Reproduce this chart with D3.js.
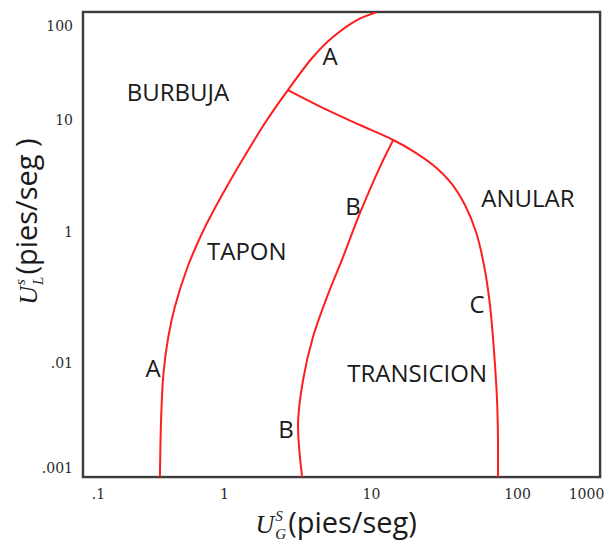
<!DOCTYPE html>
<html>
<head>
<meta charset="utf-8">
<script src="https://cdn.jsdelivr.net/npm/d3@7"></script>
<style>
  html, body { margin: 0; padding: 0; background: #fff; }
  svg { display: block; }
</style>
</head>
<body>
<svg id="chart" width="604" height="544"></svg>
<script>
// ---- data (units: pies/seg) ----
const xTickValues = [0.1, 1, 10, 100, 1000];
const xTickLabels = [".1", "1", "10", "100", "1000"];
const yTickValues = [100, 10, 1, 0.01, 0.001];
const yTickLabels = ["100", "10", "1", ".01", ".001"];

// boundary A (burbuja / tapón), bottom to top
const curveA = [
  [0.31, 0.00082], [0.3167, 0.00287], [0.331, 0.00803], [0.361, 0.0249],
  [0.407, 0.0716], [0.514, 0.292], [0.671, 0.966], [0.945, 2.05],
  [1.37, 4.68], [1.96, 10], [2.72, 20.8], [4.03, 46.8],
  [5.51, 76.4], [8.03, 115.8], [11.0, 141]
];
// junction branch + boundary C (transición / anular)
const curveC = [
  [2.72, 20.8], [5.02, 12.8], [8.42, 9.02], [14.2, 6.63],
  [19.4, 5.28], [26.6, 3.96], [35.3, 2.74], [44.0, 1.74],
  [52.4, 1.0], [59.4, 0.313], [65.3, 0.0768], [69.5, 0.0158],
  [73.0, 0.00444], [74.1, 0.00185], [74.1, 0.00082]
];
// boundary B (tapón / transición)
const curveB = [
  [14.2, 6.63], [11.5, 3.80], [8.42, 1.48], [6.45, 0.415],
  [5.02, 0.102], [4.03, 0.0249], [3.45, 0.00689], [3.19, 0.00268],
  [3.40, 0.00082]
];

const regionNames = ["BURBUJA", "TAPON", "TRANSICION", "ANULAR"];
const regionX = [0.431, 1.43, 20.7, 144];
const regionY = [19.9, 0.531, 0.0082, 2.05];

const curveTags = ["A", "A", "B", "B", "C"];
const tagX = [5.26, 0.274, 7.55, 2.64, 53.2];
const tagY = [49.1, 0.00916, 1.71, 0.0024, 0.0824];

// plot frame extent (data units)
const frameX = [0.076, 1600];
const frameY = [0.00082, 141];

// ---- scales (hand-drawn decades: piecewise log) ----
const x = d3.scaleLog().domain(xTickValues).range([98, 224, 371, 517, 586]);
const y = d3.scaleLog().domain(yTickValues).range([26, 120, 232, 363, 468]);

const svg = d3.select("#chart");

// frame
const fx0 = x(frameX[0]), fx1 = x(frameX[1]);
const fy0 = y(frameY[1]), fy1 = y(frameY[0]);
svg.append("rect")
  .attr("x", fx0).attr("y", fy0)
  .attr("width", fx1 - fx0).attr("height", fy1 - fy0)
  .attr("fill", "none").attr("stroke", "#3c3c3c").attr("stroke-width", 2.4);

// axes (labels only)
const tickFont = "'DejaVu Serif', serif";
const xAxis = d3.axisBottom(x).tickValues(xTickValues)
  .tickFormat((d, i) => xTickLabels[i]).tickSize(0).tickPadding(12);
const gx = svg.append("g").attr("transform", `translate(0,${fy1})`).call(xAxis);
gx.select(".domain").remove();
gx.selectAll("text").attr("font-family", tickFont).attr("font-size", 14).attr("fill", "#2a2a2a");

const yAxis = d3.axisLeft(y).tickValues(yTickValues)
  .tickFormat((d, i) => yTickLabels[i]).tickSize(0).tickPadding(10);
const gy = svg.append("g").attr("transform", `translate(${fx0},0)`).call(yAxis);
gy.select(".domain").remove();
gy.selectAll("text").attr("font-family", tickFont).attr("font-size", 14).attr("fill", "#2a2a2a");

// curves
const line = d3.line().x(d => x(d[0])).y(d => y(d[1])).curve(d3.curveCatmullRom.alpha(0.5));
const clip = svg.append("clipPath").attr("id", "clip").append("rect")
  .attr("x", fx0).attr("y", fy0).attr("width", fx1 - fx0).attr("height", fy1 - fy0);
svg.append("g").attr("clip-path", "url(#clip)")
  .selectAll("path").data([curveA, curveC, curveB]).join("path")
  .attr("d", line).attr("fill", "none")
  .attr("stroke", "#ff1e1e").attr("stroke-width", 2);

// region labels
const labelFont = "'Open Sans', sans-serif";
svg.append("g").selectAll("text").data(regionNames).join("text")
  .attr("x", (d, i) => x(regionX[i])).attr("y", (d, i) => y(regionY[i]))
  .attr("text-anchor", "middle").attr("dominant-baseline", "central")
  .attr("font-family", labelFont).attr("font-size", 24).attr("fill", "#1a1a1a")
  .text(d => d);

svg.append("g").selectAll("text").data(curveTags).join("text")
  .attr("x", (d, i) => x(tagX[i])).attr("y", (d, i) => y(tagY[i]))
  .attr("text-anchor", "middle").attr("dominant-baseline", "central")
  .attr("font-family", labelFont).attr("font-size", 24).attr("fill", "#1a1a1a")
  .text(d => d);

// axis titles with sub/superscripts
function title(g, sub, sup, rest) {
  const u = g.append("text").attr("x", 0).attr("y", 0)
    .attr("font-family", "'Liberation Serif', serif").attr("font-style", "italic")
    .attr("font-size", 26).attr("fill", "#1a1a1a").text("U");
  const wU = u.node().getComputedTextLength();
  const s1 = g.append("text").attr("x", wU + 1).attr("y", 6)
    .attr("font-family", "'Liberation Serif', serif").attr("font-style", "italic")
    .attr("font-size", 15).attr("fill", "#1a1a1a").text(sub);
  const s2 = g.append("text").attr("x", wU + 1).attr("y", -12)
    .attr("font-family", "'Liberation Serif', serif").attr("font-style", "italic")
    .attr("font-size", 15).attr("fill", "#1a1a1a").text(sup);
  const wS = Math.max(s1.node().getComputedTextLength(), s2.node().getComputedTextLength());
  const r = g.append("text").attr("x", wU + wS + 3).attr("y", 0)
    .attr("font-family", labelFont).attr("font-size", 29).attr("fill", "#1a1a1a")
    .text(rest);
  return wU + wS + 3 + r.node().getComputedTextLength();
}
const gxT = svg.append("g");
const wx = title(gxT, "G", "S", "(pies/seg)");
gxT.attr("transform", `translate(${x(5.8) - wx / 2},533)`);

const gyT = svg.append("g");
const wy = title(gyT, "L", "s", "(pies/seg )");
gyT.attr("transform", `translate(37,${y(1.24) + wy / 2}) rotate(-90)`);
</script>
</body>
</html>
